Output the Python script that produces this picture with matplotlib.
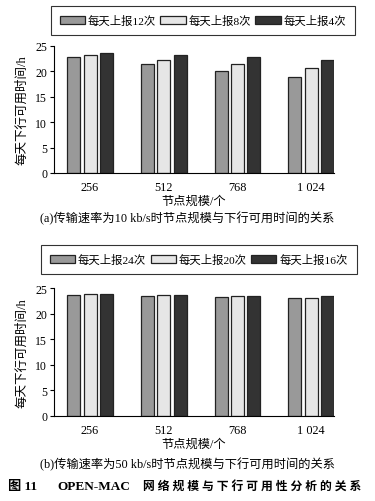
import matplotlib.pyplot as plt
import numpy as np

plt.rcParams['font.family'] = ['Liberation Serif', 'Noto Sans CJK SC']
plt.rcParams['axes.unicode_minus'] = False

# node scale categories
nodes = ['256', '512', '768', '1 024']

# (a) 10 kb/s
labels_a = ['每天上报12次', '每天上报8次', '每天上报4次']
a_12 = [22.8, 21.4, 20.1, 18.9]
a_8 = [23.2, 22.3, 21.4, 20.6]
a_4 = [23.7, 23.2, 22.8, 22.3]

# (b) 50 kb/s
labels_b = ['每天上报24次', '每天上报20次', '每天上报16次']
b_24 = [23.75, 23.5, 23.2, 23.0]
b_20 = [23.9, 23.7, 23.4, 23.15]
b_16 = [23.9, 23.7, 23.55, 23.4]

colors = ['#999999', '#e6e6e6', '#333333']

fig = plt.figure(figsize=(3.75, 5.02), dpi=100)

ax1 = fig.add_axes([0.144, 0.6534, 0.747, 0.253])
ax2 = fig.add_axes([0.144, 0.170, 0.747, 0.2537])


def draw(ax, series, labels, legend_box, caption, cap_y):
    x = np.arange(len(nodes))
    w = 0.176
    step = 0.222
    handles = []
    for i, (vals, lab) in enumerate(zip(series, labels)):
        h = ax.bar(x + (i - 1) * step, vals, w, color=colors[i],
                   edgecolor='#222222', linewidth=0.9, label=lab)
        handles.append(h)
    ax.set_xlim(-0.49, 3.31)
    ax.set_ylim(0, 25)
    ax.set_yticks([0, 5, 10, 15, 20, 25])
    ax.set_xticks(x)
    ax.set_xticklabels(nodes)
    ax.spines['top'].set_visible(False)
    ax.spines['right'].set_visible(False)
    ax.tick_params(axis='x', length=0, labelsize=8.8, pad=6)
    ax.tick_params(axis='y', length=3, labelsize=8.5, pad=2)
    ax.set_ylabel('每天下行可用时间/h', fontsize=9, labelpad=5)
    ax.set_xlabel('节点规模/个', fontsize=8.8, labelpad=1)
    leg = fig.legend(handles=handles, labels=labels, loc='center',
                     bbox_to_anchor=legend_box, ncol=3, fontsize=8.2,
                     frameon=True, fancybox=False, edgecolor='black',
                     handlelength=2.2, handleheight=0.7, handletextpad=0.25,
                     columnspacing=0.4, borderpad=0.8)
    leg.get_frame().set_linewidth(0.8)
    fig.text(0.5, cap_y, caption, ha='center', va='center', fontsize=8.8)


draw(ax1, [a_12, a_8, a_4], labels_a, (0.541, 0.957),
     '(a)传输速率为10 kb/s时节点规模与下行可用时间的关系', 1 - 219 / 502)
draw(ax2, [b_24, b_20, b_16], labels_b, (0.530, 0.481),
     '(b)传输速率为50 kb/s时节点规模与下行可用时间的关系', 1 - 465 / 502)

# figure title, pieces placed so the spacing follows the printed caption
ty = 1 - 487 / 502
fig.text(8 / 375, ty, '图 11', ha='left', va='center', fontsize=9.5,
         fontweight='bold')
fig.text(57 / 375, ty, 'OPEN-MAC', ha='left', va='center', fontsize=9.5,
         fontweight='bold')
fig.text(143 / 375, ty, ' '.join('网络规模与下行可用性分析的关系'),
         ha='left', va='center', fontsize=8.5, fontweight='bold')

plt.savefig('out.png', dpi=100)
